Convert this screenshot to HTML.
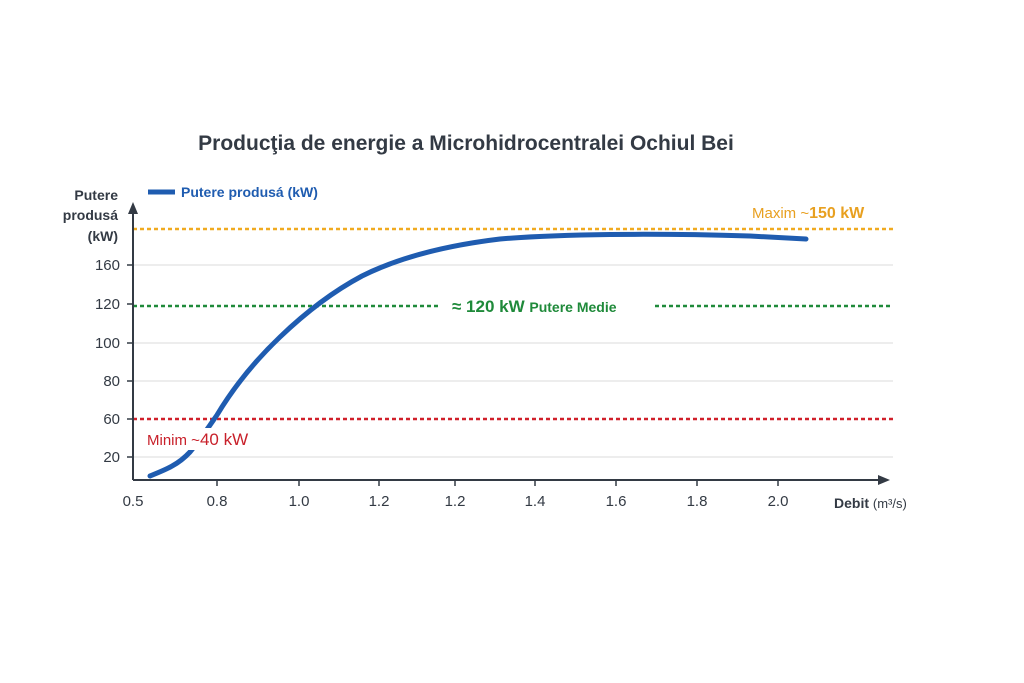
<!DOCTYPE html>
<html><head><meta charset="utf-8"><style>
html,body{margin:0;padding:0;background:#fff;}
svg{display:block;font-family:"Liberation Sans","DejaVu Sans",sans-serif;}
</style></head><body>
<svg width="1024" height="683" viewBox="0 0 1024 683">
<text x="466" y="150" text-anchor="middle" font-size="21" font-weight="bold" fill="#333a44">Producţia de energie a Microhidrocentralei Ochiul Bei</text>
<g stroke="#e2e2e2" stroke-width="1.2">
<line x1="133" y1="265" x2="893" y2="265"/><line x1="133" y1="343" x2="893" y2="343"/>
<line x1="133" y1="381" x2="893" y2="381"/><line x1="133" y1="457" x2="893" y2="457"/>
</g>
<line x1="133" y1="229" x2="893" y2="229" stroke="#f0aa20" stroke-width="2.5" stroke-dasharray="4,3"/>
<line x1="133" y1="306" x2="440" y2="306" stroke="#1f8a3a" stroke-width="2.5" stroke-dasharray="4,3"/>
<line x1="655" y1="306" x2="893" y2="306" stroke="#1f8a3a" stroke-width="2.5" stroke-dasharray="4,3"/>
<line x1="133" y1="419" x2="893" y2="419" stroke="#d0202a" stroke-width="2.5" stroke-dasharray="4,3"/>
<line x1="133" y1="480" x2="882" y2="480" stroke="#333a44" stroke-width="2"/>
<polygon points="890,480 878,475 878,485" fill="#333a44"/>
<line x1="133" y1="480" x2="133" y2="210" stroke="#333a44" stroke-width="2"/>
<polygon points="133,202 128,214 138,214" fill="#333a44"/>
<g stroke="#333a44" stroke-width="1.5">
<line x1="127" y1="265" x2="133" y2="265"/><line x1="127" y1="304" x2="133" y2="304"/><line x1="127" y1="343" x2="133" y2="343"/><line x1="127" y1="381" x2="133" y2="381"/><line x1="127" y1="419" x2="133" y2="419"/><line x1="127" y1="457" x2="133" y2="457"/>
<line x1="217" y1="480" x2="217" y2="486"/><line x1="299" y1="480" x2="299" y2="486"/><line x1="379" y1="480" x2="379" y2="486"/><line x1="455" y1="480" x2="455" y2="486"/><line x1="535" y1="480" x2="535" y2="486"/><line x1="616" y1="480" x2="616" y2="486"/><line x1="697" y1="480" x2="697" y2="486"/><line x1="778" y1="480" x2="778" y2="486"/>
</g>
<g font-size="15" fill="#333a44" text-anchor="end">
<text x="120" y="270">160</text><text x="120" y="309">120</text><text x="120" y="348">100</text><text x="120" y="386">80</text><text x="120" y="424">60</text><text x="120" y="462">20</text>
</g>
<g font-size="15" fill="#333a44" text-anchor="middle">
<text x="133" y="506">0.5</text><text x="217" y="506">0.8</text><text x="299" y="506">1.0</text><text x="379" y="506">1.2</text><text x="455" y="506">1.2</text><text x="535" y="506">1.4</text><text x="616" y="506">1.6</text><text x="697" y="506">1.8</text><text x="778" y="506">2.0</text>
</g>
<g font-size="14" font-weight="bold" fill="#333a44" text-anchor="end">
<text x="118" y="200">Putere</text><text x="118" y="220">produsá</text><text x="118" y="241">(kW)</text>
</g>
<text x="834" y="508" font-size="14" font-weight="bold" fill="#333a44">Debit <tspan font-weight="normal" font-size="13">(m³/s)</tspan></text>
<line x1="148" y1="192" x2="175" y2="192" stroke="#1f5cb0" stroke-width="5"/>
<text x="181" y="197" font-size="14" font-weight="bold" fill="#1f5cb0">Putere produsá (kW)</text>
<path d="M150,476 C165,470 178,465 190,452 C200,440 208,428 217,415 C235,385 258,358 280,337 C305,313 332,292 362,276 C402,256 450,245 500,239 C560,234 650,233 750,236 L806,239" fill="none" stroke="#1f5cb0" stroke-width="5" stroke-linecap="round"/>
<rect x="144" y="428" width="125" height="22" fill="#fff"/>
<text x="147" y="445" font-size="15" fill="#c8202a">Minim ~<tspan font-size="17">40 kW</tspan></text>
<text x="752" y="218" font-size="15" fill="#e8a020">Maxim ~<tspan font-size="16" font-weight="bold">150 kW</tspan></text>
<text x="452" y="312" font-size="17" font-weight="bold" fill="#1f8a3a">≈ 120 kW <tspan font-size="14">Putere Medie</tspan></text>
</svg>
</body></html>
